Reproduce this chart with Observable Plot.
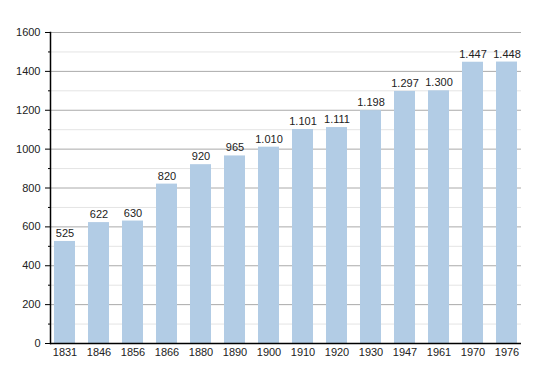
<!DOCTYPE html>
<html>
<head>
<meta charset="utf-8">
<script src="https://cdn.jsdelivr.net/npm/d3@7"></script>
<script src="https://cdn.jsdelivr.net/npm/@observablehq/plot@0.6"></script>
<style>
  html, body { margin: 0; padding: 0; background: #fff; }
  #chart { width: 550px; height: 373px; }
  #chart svg text { font-family: "Liberation Sans", Arial, sans-serif; }
</style>
</head>
<body>
<div id="chart"></div>
<script>
const years = ["1831","1846","1856","1866","1880","1890","1900","1910","1920","1930","1947","1961","1970","1976"];
const population = [525,622,630,820,920,965,1010,1101,1111,1198,1297,1300,1447,1448];
const majorTicks = [0,200,400,600,800,1000,1200,1400,1600];
const minorTicks = [100,300,500,700,900,1100,1300,1500];

const data = years.map((year, i) => ({year, pop: population[i]}));
const fmt = d3.formatLocale({decimal: ",", thousands: ".", grouping: [3], currency: ["", ""]}).format(",d");
const FF = "Liberation Sans, Arial, sans-serif";

const chart = Plot.plot({
  width: 550,
  height: 373,
  marginLeft: 50,
  marginRight: 29,
  marginTop: 32,
  marginBottom: 30,
  style: {fontFamily: FF, fontSize: "11px", color: "#000", background: "#fff"},
  x: {domain: years, paddingInner: 0.37, paddingOuter: 0.01, label: null},
  y: {domain: [0, 1600], label: null},
  marks: [
    Plot.gridY(minorTicks, {stroke: "#e4e4e4", strokeOpacity: 1}),
    Plot.gridY(majorTicks, {stroke: "#aaaaaa", strokeOpacity: 1}),
    Plot.barY(data, {x: "year", y: "pop", fill: "#b2cce5"}),
    Plot.text(data, {x: "year", y: "pop", text: d => fmt(d.pop), dy: -8, fill: "#222", fontSize: 11, fontFamily: FF}),
    Plot.axisY(majorTicks, {tickSize: 5, tickPadding: 5, tickFormat: "d", fill: "#222", stroke: "#000", label: null, fontSize: 11, fontFamily: FF}),
    Plot.axisY(minorTicks, {tickSize: 2, text: null, stroke: "#000", label: null}),
    Plot.axisX({tickSize: 0, tickPadding: 5, fill: "#222", label: null, fontSize: 11, fontFamily: FF}),
    Plot.frame({anchor: "left", stroke: "#000", strokeWidth: 1.5}),
    Plot.ruleY([0], {stroke: "#000", strokeWidth: 1.5})
  ]
});
document.getElementById("chart").appendChild(chart);
</script>
</body>
</html>
